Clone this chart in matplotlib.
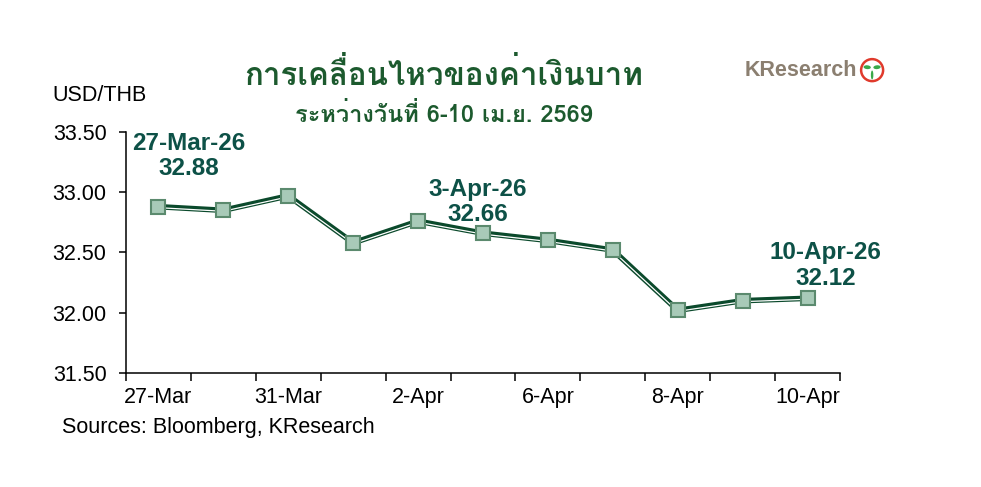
import numpy as np
import matplotlib
matplotlib.use("Agg")
import matplotlib.pyplot as plt
import matplotlib.patheffects as pe
from matplotlib import font_manager, ft2font
from matplotlib.patches import Ellipse

#-- DATA
dates = ["27-Mar", "30-Mar", "31-Mar", "1-Apr", "2-Apr", "3-Apr",
         "6-Apr", "7-Apr", "8-Apr", "9-Apr", "10-Apr"]
usdthb = [32.88, 32.85, 32.97, 32.58, 32.76, 32.66,
          32.60, 32.52, 32.02, 32.10, 32.12]
tick_idx = [0, 2, 4, 6, 8, 10]
# (index, label, x offset pt, y offset pt)
callouts = [(0, "27-Mar-26", 22, 19), (5, "3-Apr-26", -4, 5), (10, "10-Apr-26", 13, 6)]

title = "การเคลื่อนไหวของค่าเงินบาท"
subtitle = "ระหว่างวันที่ 6-10 เม.ย. 2569"

#-- FIND A FONT WITH THAI GLYPHS
thai_font = None
for f in font_manager.fontManager.ttflist:
    try:
        cmap = ft2font.FT2Font(f.fname).get_charmap()
    except Exception:
        continue
    if 0x0E01 in cmap and 0x0E32 in cmap:
        thai_font = f.name
        if "Bold" in f.fname:
            break

base = "Liberation Sans"
plt.rcParams["font.family"] = [base, "DejaVu Sans"]
title_family = [thai_font, base] if thai_font else [base, "DejaVu Sans"]

dark = "#0b4a2c"
teal = "#0d5147"
title_col = "#1c5a2e"

fig = plt.figure(figsize=(9.81, 4.87), dpi=100)
ax = fig.add_axes([0.1284, 0.2341, 0.7279, 0.4949])

x = np.arange(len(dates))
ax.plot(x, usdthb, color=dark, lw=4.0, solid_joinstyle="miter", zorder=3,
        path_effects=[pe.Stroke(linewidth=4.0, foreground=dark),
                      pe.Stroke(linewidth=0.9, foreground="white", offset=(0, -0.7))])
ax.plot(x, usdthb, ls="none", marker="s", ms=10, mfc="#a8cab8",
        mec="#5b8a6e", mew=1.5, zorder=4)

ax.set_xlim(-0.5, len(dates) - 0.5)
ax.set_ylim(31.5, 33.5)
yt = np.arange(31.5, 33.51, 0.5)
ax.set_yticks(yt)
ax.set_yticklabels(["%.2f" % v for v in yt], fontsize=15.5)
ax.set_xticks(tick_idx)
ax.set_xticklabels([dates[i] for i in tick_idx], fontsize=15.5)
ax.set_xticks(np.arange(-0.5, len(dates), 1.0), minor=True)
ax.tick_params(axis="x", which="major", length=0, pad=10)
ax.tick_params(axis="x", which="minor", length=6, width=1.1, direction="out")
ax.tick_params(axis="y", length=5, width=1.1, direction="out", pad=9)
for s in ["top", "right"]:
    ax.spines[s].set_visible(False)
for s in ["left", "bottom"]:
    ax.spines[s].set_linewidth(1.1)

for i, lab, dx, dy in callouts:
    ax.annotate(lab + "\n" + "%.2f" % usdthb[i], (i, usdthb[i]),
                xytext=(dx, dy), textcoords="offset points", ha="center", va="bottom",
                fontsize=17.5, fontweight="bold", color=teal, linespacing=1.15)

fig.text(0.053, 0.803, "USD/THB", fontsize=15.5, va="center")
fig.text(0.063, 0.122, "Sources: Bloomberg, KResearch", fontsize=15.5, va="center")
fig.text(0.452, 0.846, title, fontsize=22.5, fontweight="bold", color=title_col,
         ha="center", va="center", family=title_family)
fig.text(0.452, 0.763, subtitle, fontsize=17, fontweight="bold", color=title_col,
         ha="center", va="center", family=title_family)

#-- logo
fig.text(0.759, 0.856, "KResearch", fontsize=15.5, fontweight="bold", color="#8b7f70",
         ha="left", va="center")
fig.patches.append(Ellipse((0.889, 0.856), 22 / 981, 22 / 487, transform=fig.transFigure,
                           fill=False, ec="#e03a2c", lw=1.8))
fig.patches.append(Ellipse((0.884, 0.862), 7 / 981, 4 / 487, angle=30,
                           transform=fig.transFigure, fc="#3aa84a", ec="none"))
fig.patches.append(Ellipse((0.894, 0.862), 7 / 981, 4 / 487, angle=-30,
                           transform=fig.transFigure, fc="#3aa84a", ec="none"))
fig.patches.append(Ellipse((0.889, 0.846), 2.5 / 981, 9 / 487,
                           transform=fig.transFigure, fc="#3aa84a", ec="none"))

fig.savefig("out.png", dpi=100)
